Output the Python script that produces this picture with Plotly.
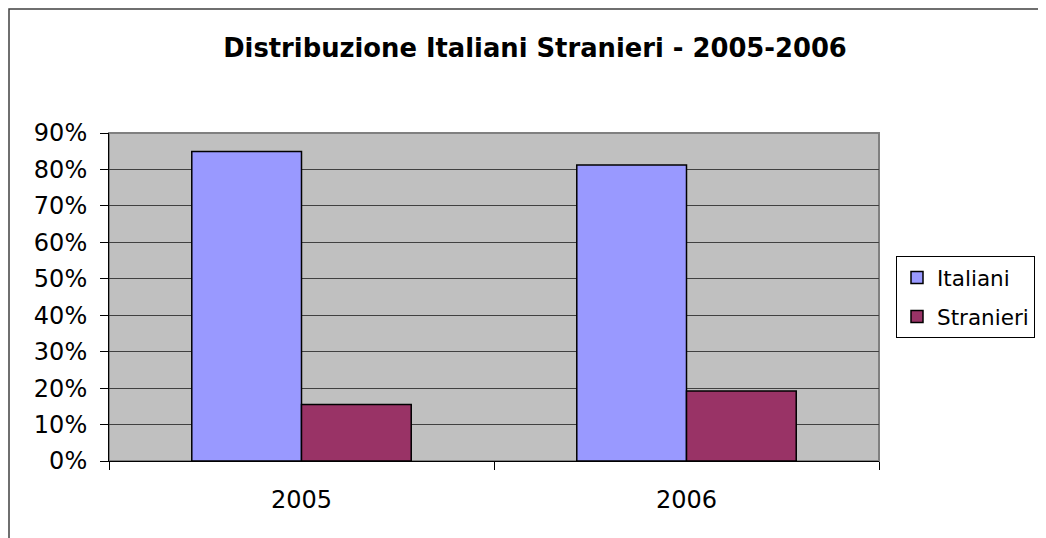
import plotly.graph_objects as go

years = ["2005", "2006"]
italiani = [0.849, 0.812]
stranieri = [0.155, 0.192]
series_names = ["Italiani", "Stranieri"]
title_text = "Distribuzione Italiani Stranieri - 2005-2006"

# The page adds an 8px body margin; lay out in figure pixels accordingly.
OFF = 8
W, H = 1046 - OFF, 538 - OFF
L, R, T, B = 109 - OFF, 879 - OFF, 133 - OFF, 461 - OFF  # plot area in figure pixels

FONT = "DejaVu Sans, Verdana, sans-serif"

fig = go.Figure()
fig.add_trace(go.Bar(x=years, y=italiani, name=series_names[0], legendgroup="g1",
                     marker=dict(color="#9999FF", line=dict(color="black", width=1.5))))
fig.add_trace(go.Bar(x=years, y=stranieri, name=series_names[1], legendgroup="g2",
                     marker=dict(color="#993366", line=dict(color="black", width=1.5))))

def px_x(p):  # page pixel -> paper
    return (p - OFF - L) / (R - L)

def px_y(p):
    return (B - (p - OFF)) / (B - T)

fig.update_layout(
    width=W, height=H,
    margin=dict(l=L, r=W - R, t=T, b=H - B, pad=0),
    paper_bgcolor="white",
    plot_bgcolor="#C0C0C0",
    barmode="group",
    bargap=0.43,
    bargroupgap=0,
    font=dict(family=FONT, color="black", size=24),
    title=dict(text="<b>" + title_text + "</b>", x=(535 - OFF) / W, xanchor="center",
               y=1 - (48 - OFF) / H, yanchor="middle",
               font=dict(size=25.8, family=FONT, color="black")),
    legend=dict(xref="container", yref="container",
                x=(896 - OFF) / W, xanchor="left",
                y=1 - (256 - OFF) / H, yanchor="top",
                bordercolor="black", borderwidth=1, bgcolor="white",
                font=dict(size=21.5, family=FONT, color="black"),
                itemwidth=30,
                traceorder="grouped", tracegroupgap=8),
    showlegend=True,
    xaxis=dict(showline=True, linecolor="black", linewidth=1,
               ticks="outside", ticklen=8, tickcolor="black", tickson="boundaries",
               ticklabelstandoff=17, showgrid=False,
               tickfont=dict(size=24, family=FONT, color="black")),
    yaxis=dict(range=[0, 0.9], dtick=0.1, tickformat=".0%",
               showline=True, linecolor="black", linewidth=1,
               ticks="outside", ticklen=8, tickcolor="black",
               ticklabelstandoff=8,
               showgrid=True, gridcolor="#404040", gridwidth=1,
               zeroline=False,
               tickfont=dict(size=24, family=FONT, color="black")),
    shapes=[
        dict(type="rect", xref="paper", yref="paper", x0=0, x1=1, y0=0, y1=1,
             line=dict(color="#808080", width=2), layer="below"),
        dict(type="rect", xref="paper", yref="paper",
             x0=px_x(9), x1=px_x(1070), y0=px_y(570), y1=px_y(9),
             line=dict(color="#404040", width=1.5), layer="below"),
    ],
)

fig.write_html("out.html")
